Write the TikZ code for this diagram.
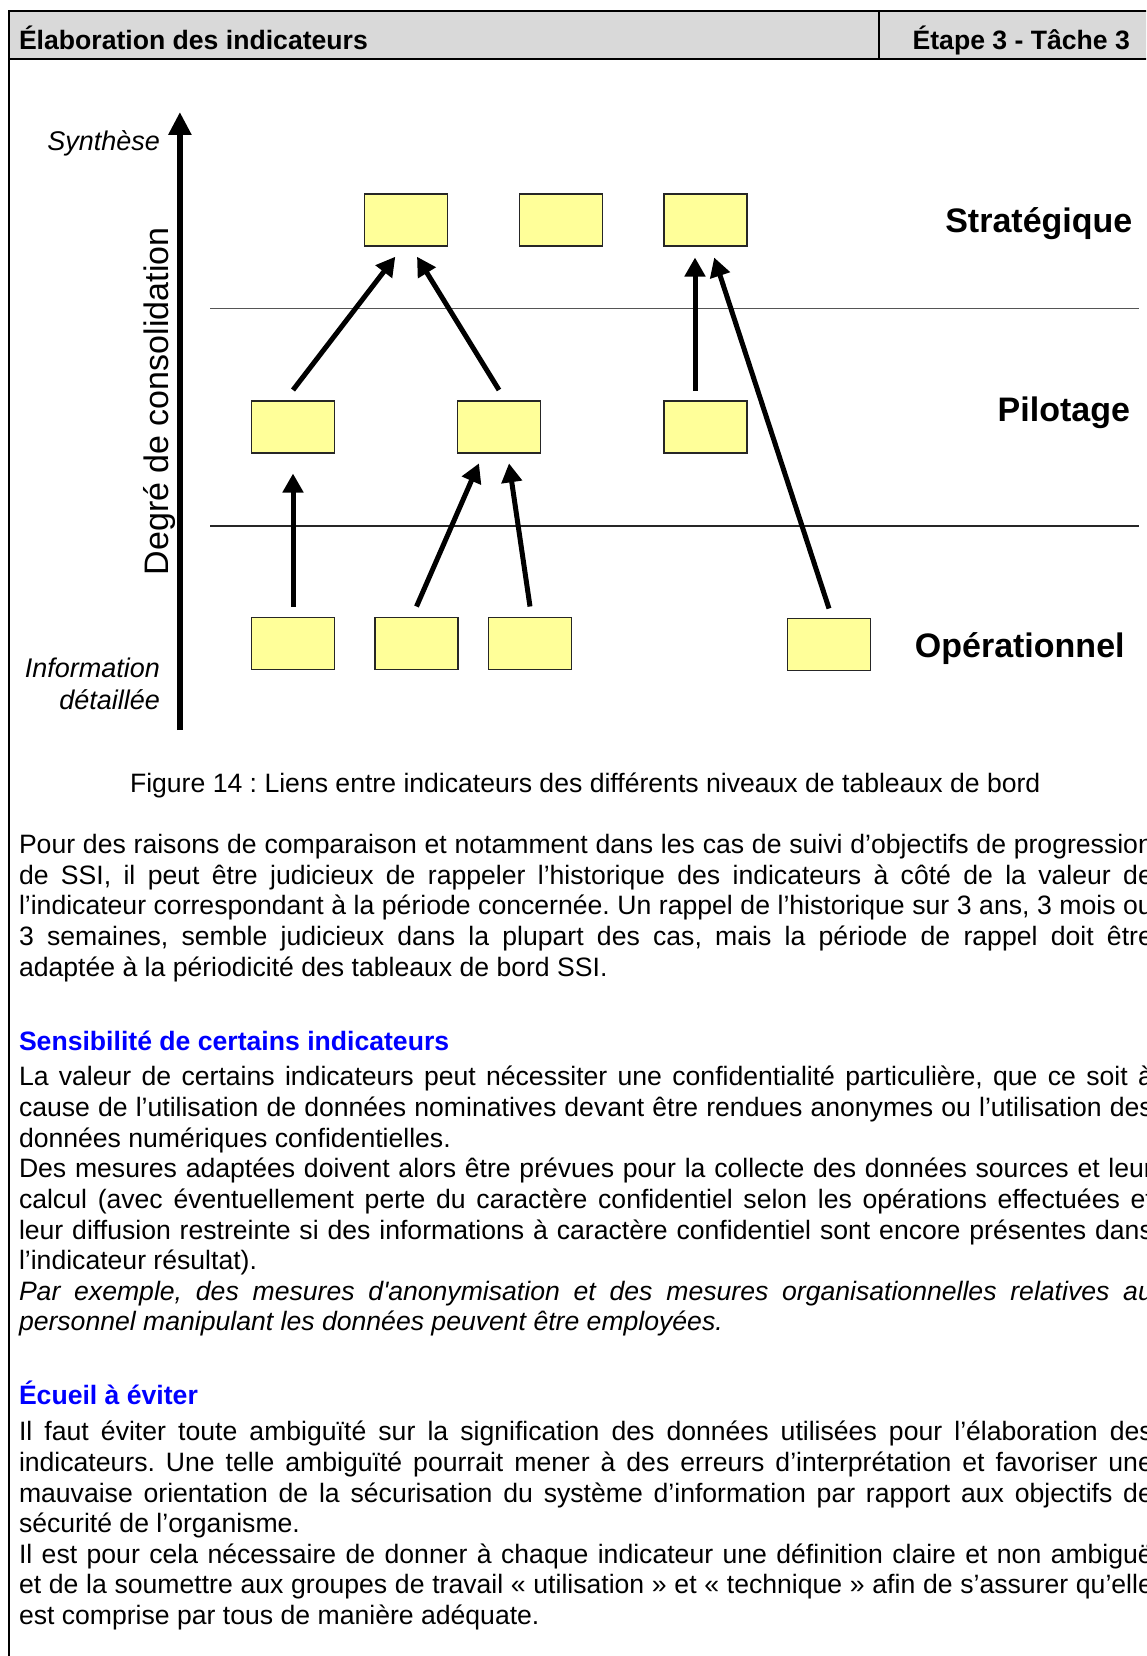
\documentclass[tikz,border=0pt]{standalone}
\usepackage{fontspec}
\newfontfamily\arial{Liberation Sans}
\usetikzlibrary{arrows.meta}
\definecolor{hdrgray}{RGB}{217,217,217}
\definecolor{boxyellow}{RGB}{255,255,153}
\definecolor{headblue}{RGB}{0,0,255}
\definecolor{rulegray}{RGB}{85,85,85}
\newcommand\mkjline[3]{\node[bodytxt] (#1) at (19,#2) {\makebox[1134pt][s]{#3}};}
\newcommand\mkpline[3]{\node[bodytxt] (#1) at (19,#2) {#3};}
\frenchspacing
\begin{document}
\begin{tikzpicture}[x=1pt,y=-1pt,
  every node/.style={inner sep=0pt, outer sep=0pt},
  bodytxt/.style={font=\arial\frenchspacing\fontsize{26.6}{30.6}\selectfont, anchor=base west},
  headtxt/.style={font=\arial\bfseries\fontsize{26.6}{30.6}\selectfont, anchor=base west},
  bluehead/.style={font=\arial\bfseries\fontsize{26.6}{30.6}\selectfont, anchor=base west, text=headblue},
  frameline/.style={line width=2pt, draw=black},
  ind/.style={draw=black!85, line width=1.5pt, fill=boxyellow, minimum width=83pt, minimum height=52pt},
  link/.style={-{Triangle[length=19pt,width=20pt]}, line width=5pt},
  axisarrow/.style={-{Triangle[length=23pt,width=22pt]}, line width=5.7pt},
  leveltxt/.style={font=\arial\bfseries\fontsize{34}{40}\selectfont, anchor=base west},
  sidetxt/.style={font=\arial\itshape\fontsize{27}{31}\selectfont, anchor=base east},
  axistxt/.style={font=\arial\fontsize{34}{40}\selectfont, anchor=base, rotate=90},
  sepline/.style={line width=1.3pt, draw=rulegray}
]
\path[use as bounding box, fill=white] (0,0) rectangle (1146,1656);
\clip (0,0) rectangle (1146,1656);

% frame and header
\fill[hdrgray] (8.5,11) rectangle (1170,59.3);
\draw[frameline] (1170,1720) -- (8.5,1720) -- (8.5,11) -- (1170,11);
\draw[frameline] (8.5,59.3) -- (1170,59.3);
\draw[frameline] (878.8,11) -- (878.8,59.3);
\node[headtxt] (title) at (19,50) {Élaboration des indicateurs};
\node[headtxt] (step) at (912.6,50) {Étape 3 - Tâche 3};

% axis
\coordinate (axbot) at (179.9,730);
\coordinate (axtop) at (179.9,112);
\draw[axisarrow] (axbot) -- (axtop);
\node[sidetxt] (synth) at (160,151) {Synthèse};
\node[sidetxt] (info1) at (160,677.7) {Information};
\node[sidetxt] (info2) at (160,709.3) {détaillée};
\node[axistxt] (degre) at (168.4,401.4) {Degré de consolidation};

% separators
\coordinate (sepA1) at (210,308.6);
\coordinate (sepA2) at (1138.6,308.6);
\coordinate (sepB1) at (210,526);
\coordinate (sepB2) at (1138.6,526);
\draw[sepline] (sepA1) -- (sepA2);
\draw[sepline, draw=black!85] (sepB1) -- (sepB2);

% boxes
\node[ind] (S1) at (406,220) {};
\node[ind] (S2) at (561,220) {};
\node[ind] (S3) at (705.5,220) {};
\node[ind] (P1) at (293,427) {};
\node[ind] (P2) at (499,427) {};
\node[ind] (P3) at (705.5,427) {};
\node[ind] (O1) at (293,643.5) {};
\node[ind] (O2) at (416.5,643.5) {};
\node[ind] (O3) at (530,643.5) {};
\node[ind] (O4) at (829,644.5) {};

% level labels
\node[leveltxt] (lstrat) at (945.3,232.8) {Stratégique};
\node[leveltxt] (lpilot) at (997.7,421.3) {Pilotage};
\node[leveltxt] (lope) at (914.9,657.4) {Opérationnel};

% links
\draw[link] ([yshift=11pt]P1.north) -- ([xshift=-10.7pt,yshift=-10.7pt]S1.south);
\draw[link] ([yshift=11pt]P2.north) -- ([xshift=11pt,yshift=-10.7pt]S1.south);
\draw[link] ([xshift=-10.5pt,yshift=10.5pt]P3.north) -- ([xshift=-10.5pt,yshift=-11.5pt]S3.south);
\draw[link] ([yshift=10pt]O4.north) -- ([xshift=8.7pt,yshift=-11.5pt]S3.south);
\draw[link] ([yshift=11pt]O1.north) -- ([yshift=-20.5pt]P1.south);
\draw[link] ([yshift=11pt]O2.north) -- ([xshift=-20pt,yshift=-10.3pt]P2.south);
\draw[link] ([yshift=11pt]O3.north) -- ([xshift=10pt,yshift=-10.3pt]P2.south);

% caption
\node[bodytxt, anchor=base] (cap) at (585.2,792) {Figure 14 : Liens entre indicateurs des différents niveaux de tableaux de bord};

% paragraph 1
\mkjline{a1}{853.4}{Pour des raisons de comparaison et notamment dans les cas de suivi d’objectifs de progression}
\mkjline{a2}{884.0}{de SSI, il peut être judicieux de rappeler l’historique des indicateurs à côté de la valeur de}
\mkjline{a3}{914.7}{l’indicateur correspondant à la période concernée. Un rappel de l’historique sur 3 ans, 3 mois ou}
\mkjline{a4}{945.3}{3 semaines, semble judicieux dans la plupart des cas, mais la période de rappel doit être}
\mkpline{a5}{976.0}{adaptée à la périodicité des tableaux de bord SSI.}

% heading 1
\node[bluehead] (h1) at (19,1050.9) {Sensibilité de certains indicateurs};
\mkjline{b1}{1085.8}{La valeur de certains indicateurs peut nécessiter une confidentialité particulière, que ce soit à}
\mkjline{b2}{1116.4}{cause de l’utilisation de données nominatives devant être rendues anonymes ou l’utilisation des}
\mkpline{b3}{1147.1}{données numériques confidentielles.}
\mkjline{b4}{1177.7}{Des mesures adaptées doivent alors être prévues pour la collecte des données sources et leur}
\mkjline{b5}{1208.3}{calcul (avec éventuellement perte du caractère confidentiel selon les opérations effectuées et}
\mkjline{b6}{1239.0}{leur diffusion restreinte si des informations à caractère confidentiel sont encore présentes dans}
\mkpline{b7}{1269.6}{l’indicateur résultat).}
\mkjline{b8}{1300.2}{\itshape Par exemple, des mesures d'anonymisation et des mesures organisationnelles relatives au}
\mkpline{b9}{1330.8}{\itshape personnel manipulant les données peuvent être employées.}

% heading 2
\node[bluehead] (h2) at (19,1404.7) {Écueil à éviter};
\mkjline{c1}{1440.7}{Il faut éviter toute ambiguïté sur la signification des données utilisées pour l’élaboration des}
\mkjline{c2}{1471.3}{indicateurs. Une telle ambiguïté pourrait mener à des erreurs d’interprétation et favoriser une}
\mkjline{c3}{1502.0}{mauvaise orientation de la sécurisation du système d’information par rapport aux objectifs de}
\mkpline{c4}{1532.6}{sécurité de l’organisme.}
\mkjline{c5}{1563.2}{Il est pour cela nécessaire de donner à chaque indicateur une définition claire et non ambiguë}
\mkjline{c6}{1593.9}{et de la soumettre aux groupes de travail « utilisation » et « technique » afin de s’assurer qu’elle}
\mkpline{c7}{1624.5}{est comprise par tous de manière adéquate.}
\end{tikzpicture}
\end{document}
